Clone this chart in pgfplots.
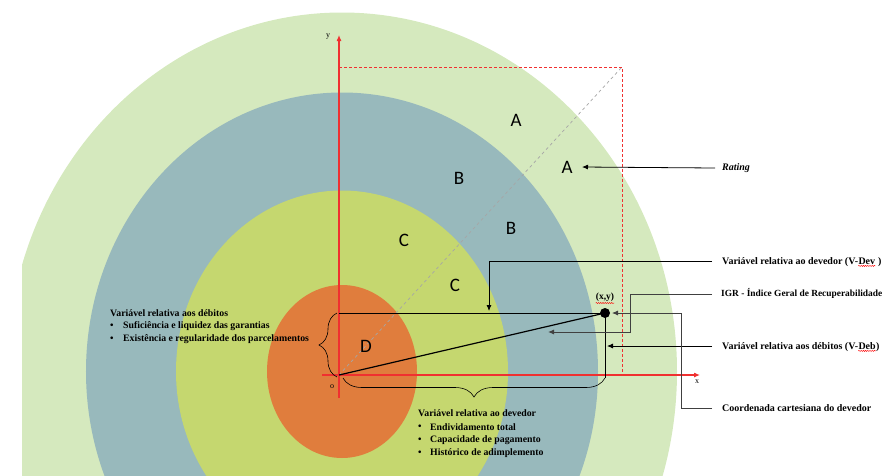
\documentclass[border=0pt]{standalone}
\usepackage{pgfplots}
\pgfplotsset{compat=1.18}
\usepackage{fontspec}
\setmainfont{Liberation Serif}
\newfontfamily\calibri{Carlito}
\usetikzlibrary{arrows.meta,decorations.pathreplacing,decorations.pathmorphing}
\definecolor{colA}{HTML}{D5E9BE}
\definecolor{colB}{HTML}{98B9BC}
\definecolor{colC}{HTML}{C5D76F}
\definecolor{colD}{HTML}{E07D3D}
\definecolor{axred}{HTML}{F03030}
\tikzset{squig/.style={red, line width=0.4pt, decorate, decoration={snake, amplitude=0.6pt, segment length=2.2pt}}}
\begin{document}
\begin{tikzpicture}
\useasboundingbox (0,0) rectangle (887pt,475pt);
\begin{axis}[at={(0,0)}, anchor=south west, scale only axis,
  width=887pt, height=475pt, xmin=0, xmax=887, ymin=0, ymax=475,
  hide axis, clip=false]
% rings
\fill[colA] (axis cs:342,103.5) ellipse [x radius=335, y radius=359];
\fill[white] (axis cs:-50,-50) rectangle (axis cs:22,300);
\fill[colB] (axis cs:342,103.5) ellipse [x radius=256, y radius=279];
\fill[colC] (axis cs:342,103.5) ellipse [x radius=166, y radius=181];
\fill[colD] (axis cs:342,103.5) ellipse [x radius=75, y radius=86.5];
% dashed rectangle and diagonal
\draw[axred, dash pattern=on 3pt off 2pt, line width=0.8pt] (axis cs:339,408) -- (axis cs:622,408) -- (axis cs:622,101);
\draw[gray!70, dashed, line width=0.7pt] (axis cs:339,100) -- (axis cs:622,408);
% axes
\draw[axred, line width=1.1pt, -{Latex[length=6pt,width=5pt]}] (axis cs:322,100) -- (axis cs:700,100);
\draw[axred, line width=1.1pt, -{Latex[length=6pt,width=5pt]}] (axis cs:339,77) -- (axis cs:339,440);
\node[font=\fontsize{8}{9}\selectfont] at (axis cs:328,438) {y};
\node[font=\fontsize{8}{9}\selectfont] at (axis cs:697,93) {x};
\node[font=\fontsize{8}{9}\selectfont] at (axis cs:332,88) {o};
% lines to point
\draw[black, line width=0.6pt] (axis cs:339,162) -- (axis cs:605,162);
\draw[black, line width=0.6pt] (axis cs:605,162) -- (axis cs:605,97);
\draw[black, line width=1.2pt] (axis cs:339,100) -- (axis cs:605,162);
\fill[black] (axis cs:605,162) circle [radius=5];
\node[font=\fontsize{9.5}{10}\selectfont\bfseries, inner sep=0pt] (xy) at (axis cs:605,178) {(x,y)};
\draw[squig] ([yshift=-1.5pt]xy.south west) -- ([yshift=-1.5pt]xy.south east);
% braces
\draw[black, line width=0.6pt, decorate, decoration={brace, mirror, amplitude=19pt}] (axis cs:343,97) -- (axis cs:605,97);
\draw[black, line width=0.6pt, decorate, decoration={brace, amplitude=18pt}] (axis cs:337,98) -- (axis cs:337,162);
% ring letters
\begin{scope}[every node/.style={font=\calibri\fontsize{19}{20}\selectfont}]
\node at (axis cs:516,355) {A};
\node at (axis cs:567,308) {A};
\node at (axis cs:459,297) {B};
\node at (axis cs:511,247) {B};
\node at (axis cs:404,235) {C};
\node at (axis cs:455,190) {C};
\node at (axis cs:366,129) {D};
\end{scope}
% left text
\begin{scope}[every node/.style={font=\fontsize{9.8}{11}\selectfont\bfseries, anchor=west, inner sep=0pt}]
\node at (axis cs:110,162) {Variável relativa aos débitos};
\node at (axis cs:110,149) {•};
\node at (axis cs:123,149) {Suficiência e liquidez das garantias};
\node at (axis cs:110,136) {•};
\node at (axis cs:123,136) {Existência e regularidade dos parcelamentos};
% bottom text
\node at (axis cs:418,62) {Variável relativa ao devedor};
\node at (axis cs:418,48) {•};
\node at (axis cs:430,48) {Endividamento total};
\node at (axis cs:418,35) {•};
\node at (axis cs:430,35) {Capacidade de pagamento};
\node at (axis cs:418,22) {•};
\node at (axis cs:430,22) {Histórico de adimplemento};
\end{scope}
% right labels
\begin{scope}[every node/.style={font=\fontsize{10}{11}\selectfont\bfseries, anchor=west, inner sep=0pt}]
\node (d1) at (axis cs:722,213) {Variável relativa ao devedor (V-};
\node[anchor=base west] (d2) at (d1.base east) {Dev};
\node[anchor=base west] at (d2.base east) {\ )};
\node[font=\fontsize{9.4}{11}\selectfont\bfseries] at (axis cs:721,182) {IGR - Índice Geral de Recuperabilidade};
\node (b1) at (axis cs:722,128) {Variável relativa aos débitos (V-};
\node[anchor=base west] (b2) at (b1.base east) {Deb};
\node[anchor=base west] at (b2.base east) {)};
\node at (axis cs:722,67) {Coordenada cartesiana do devedor};
\node[font=\fontsize{10}{11}\selectfont\bfseries\itshape] at (axis cs:722,307) {Rating};
\end{scope}
\draw[squig] ([yshift=-1.5pt]d2.base west) -- ([yshift=-1.5pt]d2.base east);
\draw[squig] ([yshift=-1.5pt]b2.base west) -- ([yshift=-1.5pt]b2.base east);
% callouts
\draw[black, line width=0.8pt, -{Latex[length=6pt,width=5pt]}] (axis cs:712,214) -- (axis cs:489,214) -- (axis cs:489,164);
\draw[black!75, line width=1pt, -{Latex[length=6pt,width=5pt]}] (axis cs:712,181) -- (axis cs:630,181) -- (axis cs:630,143) -- (axis cs:548,143);
\draw[black, line width=0.8pt, -{Latex[length=6pt,width=5pt]}] (axis cs:712,129) -- (axis cs:607,129);
\draw[black!75, line width=0.8pt, -{Latex[length=6pt,width=5pt]}] (axis cs:712,67) -- (axis cs:681,67) -- (axis cs:681,162) -- (axis cs:612,162);
\draw[black, line width=0.8pt, -{Latex[length=6pt,width=5pt]}] (axis cs:715,307) -- (axis cs:582,308);
\end{axis}
\end{tikzpicture}
\end{document}
